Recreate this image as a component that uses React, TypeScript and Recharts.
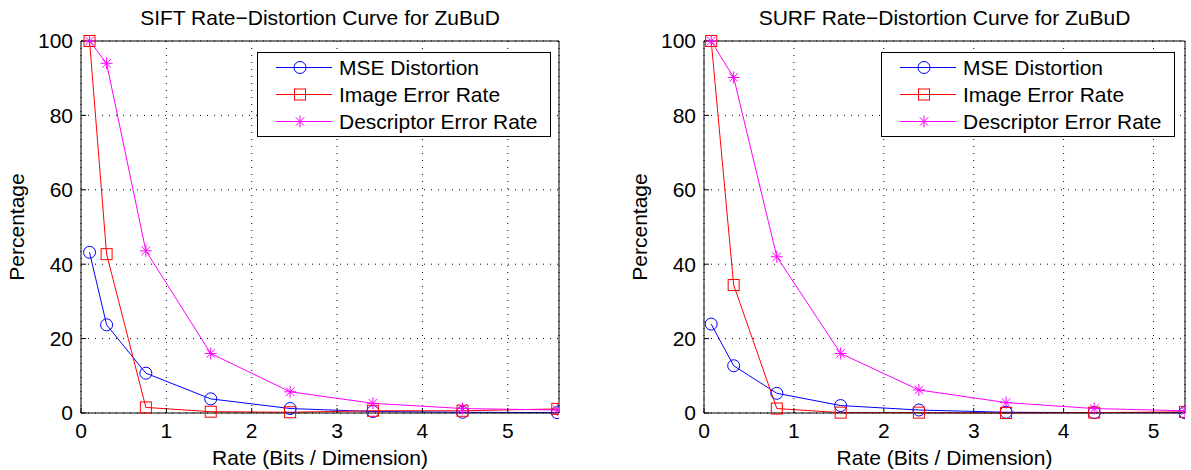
import { CartesianGrid, Legend, Line, LineChart, XAxis, YAxis } from "recharts";

// values
const siftRate = [0.1, 0.3, 0.76, 1.52, 2.45, 3.42, 4.47, 5.58];
const siftMse = [43.2, 23.7, 10.7, 3.8, 1.2, 0.4, 0.2, 0.1];
const siftImageErr = [100, 42.7, 1.5, 0.35, 0.2, 0.6, 0.6, 1.1];
const siftDescErr = [100, 94.0, 43.6, 16.0, 5.7, 2.6, 1.2, 0.8];

const surfRate = [0.08, 0.33, 0.81, 1.52, 2.39, 3.36, 4.34, 5.35];
const surfMse = [23.9, 12.7, 5.3, 2.0, 0.8, 0.2, 0.1, 0.1];
const surfImageErr = [100, 34.4, 1.2, 0.1, 0.1, 0.0, 0.1, 0.3];
const surfDescErr = [100, 90.2, 42.0, 16.0, 6.2, 2.8, 1.2, 0.6];

const xTicks = [0, 1, 2, 3, 4, 5];
const yTicks = [0, 20, 40, 60, 80, 100];
const seriesNames = ["MSE Distortion", "Image Error Rate", "Descriptor Error Rate"];

const FONT = '"Liberation Sans", Arial, Helvetica, sans-serif';
const BLUE = "#0000ff";
const RED = "#ff0000";
const MAGENTA = "#ff00ff";

// chart frame: plot box is at top 41 .. bottom 413 in both panels
const H = 470;
const PLOT_TOP = 41;
const PLOT_BOTTOM = 413;

function Marker({ kind, cx, cy }: { kind: number; cx: number; cy: number }) {
  if (kind === 0) return <circle cx={cx} cy={cy} r={6} fill="none" stroke={BLUE} strokeWidth={1} />;
  if (kind === 1)
    return <rect x={cx - 5.5} y={cy - 5.5} width={11} height={11} fill="none" stroke={RED} strokeWidth={1} />;
  const s = 6;
  const d = 4.3;
  return (
    <g stroke={MAGENTA} strokeWidth={1}>
      <line x1={cx - s} y1={cy} x2={cx + s} y2={cy} />
      <line x1={cx} y1={cy - s} x2={cx} y2={cy + s} />
      <line x1={cx - d} y1={cy - d} x2={cx + d} y2={cy + d} />
      <line x1={cx - d} y1={cy + d} x2={cx + d} y2={cy - d} />
    </g>
  );
}

const dotFor = (kind: number) => (p: any) =>
  p.cx == null ? <g key={p.index} /> : <g key={p.index}><Marker kind={kind} cx={p.cx} cy={p.cy} /></g>;

function RDLegend() {
  const colors = [BLUE, RED, MAGENTA];
  return (
    <div
      style={{
        width: 294,
        height: 85,
        boxSizing: "border-box",
        border: "1.5px solid #000",
        background: "#fff",
        paddingTop: 1,
        fontFamily: FONT,
        fontSize: 21,
        color: "#000",
      }}
    >
      {seriesNames.map((name, i) => (
        <div key={name} style={{ height: 27, display: "flex", alignItems: "center", whiteSpace: "nowrap" }}>
          <svg width={81} height={27} style={{ flex: "none" }}>
            <line x1={18} y1={13.5} x2={74} y2={13.5} stroke={colors[i]} strokeWidth={1} />
            <Marker kind={i} cx={42} cy={13.5} />
          </svg>
          <span style={{ lineHeight: "27px" }}>{name}</span>
        </div>
      ))}
    </div>
  );
}

interface PanelProps {
  title: string;
  rate: number[];
  mse: number[];
  imageErr: number[];
  descErr: number[];
  xMax: number;
  left: number;
  width: number;
  plotLeft: number;
  plotRight: number;
  legendLeft: number;
}

function RDPanel({ title, rate, mse, imageErr, descErr, xMax, left, width, plotLeft, plotRight, legendLeft }: PanelProps) {
  const data = rate.map((r, i) => ({ rate: r, mse: mse[i], image: imageErr[i], desc: descErr[i] }));
  const cx = (plotLeft + plotRight) / 2;
  const tickStyle = { fill: "#000", fontSize: 21, fontFamily: FONT };
  return (
    <div style={{ position: "absolute", left, top: 0, width, height: H }}>
      <LineChart
        width={width}
        height={H}
        data={data}
        margin={{ top: PLOT_TOP - 1, right: width - plotRight - 1, bottom: H - PLOT_BOTTOM - 30, left: plotLeft - 40 }}
      >
        <CartesianGrid stroke="#000" strokeDasharray="1 6" strokeWidth={1} />
        <XAxis
          dataKey="rate"
          type="number"
          domain={[0, xMax]}
          ticks={xTicks}
          allowDataOverflow
          height={30}
          tick={tickStyle}
          tickSize={-5}
          tickMargin={15}
          axisLine={{ stroke: "#000" }}
          tickLine={{ stroke: "#000" }}
        />
        <XAxis
          xAxisId="top"
          orientation="top"
          dataKey="rate"
          type="number"
          domain={[0, xMax]}
          ticks={xTicks}
          allowDataOverflow
          height={1}
          tick={false}
          tickSize={-5}
          axisLine={{ stroke: "#000" }}
          tickLine={{ stroke: "#000" }}
        />
        <YAxis
          type="number"
          domain={[0, 100]}
          ticks={yTicks}
          width={40}
          tick={tickStyle}
          tickSize={-5}
          tickMargin={13}
          axisLine={{ stroke: "#000" }}
          tickLine={{ stroke: "#000" }}
        />
        <YAxis
          yAxisId="right"
          orientation="right"
          type="number"
          domain={[0, 100]}
          ticks={yTicks}
          width={1}
          tick={false}
          tickSize={-5}
          axisLine={{ stroke: "#000" }}
          tickLine={{ stroke: "#000" }}
        />
        <Line dataKey="mse" stroke={BLUE} strokeWidth={1} dot={dotFor(0)} isAnimationActive={false} />
        <Line dataKey="image" stroke={RED} strokeWidth={1} dot={dotFor(1)} isAnimationActive={false} />
        <Line dataKey="desc" stroke={MAGENTA} strokeWidth={1} dot={dotFor(2)} isAnimationActive={false} />
        <Legend
          layout="vertical"
          align="center"
          verticalAlign="middle"
          content={() => <RDLegend />}
          wrapperStyle={{ left: legendLeft, top: 52, width: 294, height: 85 }}
        />
      </LineChart>
      <svg
        width={width}
        height={H}
        style={{ position: "absolute", left: 0, top: 0, pointerEvents: "none" }}
        fontFamily={FONT}
        fontSize={21}
      >
        <text x={cx} y={25} textAnchor="middle" fill="#000">
          {title}
        </text>
        <text x={cx} y={465} textAnchor="middle" fill="#000">
          Rate (Bits / Dimension)
        </text>
        <text
          x={plotLeft - 57}
          y={(PLOT_TOP + PLOT_BOTTOM) / 2}
          textAnchor="middle"
          fill="#000"
          transform={`rotate(-90 ${plotLeft - 57} ${(PLOT_TOP + PLOT_BOTTOM) / 2})`}
        >
          Percentage
        </text>
      </svg>
    </div>
  );
}

export default function App() {
  return (
    <div style={{ position: "absolute", left: 0, top: 0, width: 1191, height: H, background: "#fff" }}>
      <RDPanel
        title="SIFT Rate−Distortion Curve for ZuBuD"
        rate={siftRate}
        mse={siftMse}
        imageErr={siftImageErr}
        descErr={siftDescErr}
        xMax={5.6}
        left={0}
        width={595}
        plotLeft={81}
        plotRight={559}
        legendLeft={257}
      />
      <RDPanel
        title="SURF Rate−Distortion Curve for ZuBuD"
        rate={surfRate}
        mse={surfMse}
        imageErr={surfImageErr}
        descErr={surfDescErr}
        xMax={5.35}
        left={595}
        width={596}
        plotLeft={109}
        plotRight={590}
        legendLeft={286}
      />
    </div>
  );
}
